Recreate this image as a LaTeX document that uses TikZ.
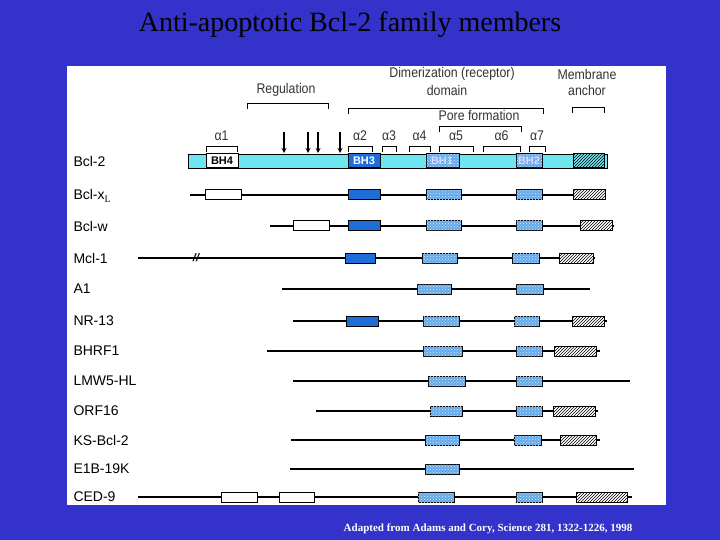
\documentclass[tikz,border=0pt]{standalone}
\usepackage{fontspec}
\setmainfont{Liberation Serif}
\newfontfamily\lab{Liberation Sans}
\usetikzlibrary{patterns}
\definecolor{bg}{RGB}{51,51,204}
\definecolor{cyanbar}{RGB}{110,230,240}
\definecolor{bhthree}{RGB}{30,110,215}
\definecolor{bhlight}{RGB}{100,170,235}
\tikzset{
 wbox/.style={draw=black,fill=white,line width=1pt},
 bthree/.style={draw=black,fill=bhthree,line width=1pt},
 bone/.style={draw=black,fill=bhlight,postaction={pattern=crosshatch dots,pattern color=white!70!bhlight},line width=1pt},
 hatch/.style={draw=black,fill=white,postaction={pattern=north east lines},line width=1pt},
 chain/.style={line width=1.8pt},
 rowlabel/.style={anchor=west,font=\lab\fontsize{14}{14}\selectfont},
 hdr/.style={font=\lab\fontsize{14}{15}\selectfont,text=black!80,xscale=0.88,transform shape},
 brk/.style={line width=1pt},
}
\newcommand\dom[4]{\draw[#4] (#1,#3-5) rectangle (#2,#3+5);}
\newcommand\br[3]{\draw[brk] (#1,#3+5) -- (#1,#3) -- (#2,#3) -- (#2,#3+5);}
\begin{document}
\begin{tikzpicture}[x=1pt,y=-1pt]
\fill[bg] (0,0) rectangle (720,540);
\useasboundingbox (0,0) rectangle (720,540);
\fill[white] (67,66) rectangle (666,505);
\node (title) at (350,25) {\fontsize{28}{28}\selectfont Anti-apoptotic Bcl-2 family members};
\node[text=white] (src) at (488,529) {\fontsize{11}{11}\selectfont\bfseries Adapted from Adams and Cory, Science 281, 1322-1226, 1998};
% header
\node[hdr] (dim) at (452,74) {Dimerization (receptor)};
\node[hdr] (dom) at (447,90) {domain};
\node[hdr] (mem) at (587,74) {Membrane};
\node[hdr] (anc) at (587,90) {anchor};
\node[hdr] (reg) at (286,90) {Regulation};
\node[hdr] (pore) at (479,115) {Pore formation};
\br{247}{328}{104}
\br{348}{543}{109}
\br{572}{604}{108}
\br{439}{521}{127}
\foreach \a/\b/\t in {206/237/1,348/372/2,382/396/3,409/430/4,439/473/5,483/520/6,529/545/7}{
 \br{\a}{\b}{147}
 \node[hdr] (al\t) at ({(\a+\b)/2},136) {α\t};
}
\foreach \x in {284,308,318,340}{\draw[-stealth,line width=1.2pt] (\x,132) -- (\x,153);}
% Bcl-2
\node[rowlabel] (r1) at (70,161) {Bcl-2};
\draw[fill=cyanbar,line width=0.6pt] (188,154) rectangle (607,168);
\draw[wbox] (206,154) rectangle (238,168);
\node[font=\lab\bfseries\fontsize{11}{11}\selectfont] (bh4) at (222,161) {BH4};
\draw[bthree] (348,154) rectangle (380,168);
\node[font=\lab\bfseries\fontsize{11}{11}\selectfont,text=white] (bh3) at (364,161) {BH3};
\draw[bone] (426,154) rectangle (459,168);
\node[font=\lab\bfseries\fontsize{11}{11}\selectfont,text=white!85!blue] (bh1) at (442,161) {BH1};
\draw[bone] (516,154) rectangle (542,168);
\node[font=\lab\bfseries\fontsize{11}{11}\selectfont,text=white!85!blue] (bh2) at (529,161) {BH2};
\draw[hatch,fill=cyanbar] (573,154) rectangle (604,168);
% Bcl-xL
\node[rowlabel] (r2) at (70,196) {Bcl-x$_{\mathrm L}$};
\draw[chain,line width=1.2pt] (190,195) -- (606,195);
\dom{205}{241}{195}{wbox}\dom{348}{380}{195}{bthree}\dom{426}{461}{195}{bone}\dom{516}{542}{195}{bone}\dom{573}{605}{195}{hatch}
% Bcl-w
\node[rowlabel] (r3) at (70,226) {Bcl-w};
\draw[chain] (270,226) -- (614,226);
\dom{293}{329}{226}{wbox}\dom{348}{380}{226}{bthree}\dom{426}{461}{226}{bone}\dom{516}{542}{226}{bone}\dom{580}{612}{226}{hatch}
% Mcl-1
\node[rowlabel] (r4) at (70,258) {Mcl-1};
\draw[chain] (138,258) -- (595,258);
\node[font=\lab\bfseries\itshape\fontsize{11}{11}\selectfont] (brk) at (196,258) {//};
\dom{345}{375}{258}{bthree}\dom{422}{457}{258}{bone}\dom{512}{539}{258}{bone}\dom{559}{593}{258}{hatch}
% A1
\node[rowlabel] (r5) at (70,289) {A1};
\draw[chain] (282,289) -- (590,289);
\dom{417}{451}{289}{bone}\dom{516}{543}{289}{bone}
% NR-13
\node[rowlabel] (r6) at (70,321) {NR-13};
\draw[chain,line width=1.2pt] (293,321) -- (607,321);
\dom{346}{378}{321}{bthree}\dom{423}{459}{321}{bone}\dom{514}{539}{321}{bone}\dom{572}{604}{321}{hatch}
% BHRF1
\node[rowlabel] (r7) at (70,351) {BHRF1};
\draw[chain] (267,351) -- (600,351);
\dom{423}{462}{351}{bone}\dom{516}{542}{351}{bone}\dom{554}{596}{351}{hatch}
% LMW5-HL
\node[rowlabel] (r8) at (70,381) {LMW5-HL};
\draw[chain] (293,381) -- (630,381);
\dom{428}{465}{381}{bone}\dom{516}{542}{381}{bone}
% ORF16
\node[rowlabel] (r9) at (70,411) {ORF16};
\draw[chain] (316,411) -- (598,411);
\dom{430}{462}{411}{bone}\dom{516}{542}{411}{bone}\dom{553}{595}{411}{hatch}
% KS-Bcl-2
\node[rowlabel] (r10) at (70,440) {KS-Bcl-2};
\draw[chain] (291,440) -- (600,440);
\dom{425}{459}{440}{bone}\dom{514}{541}{440}{bone}\dom{560}{596}{440}{hatch}
% E1B-19K
\node[rowlabel] (r11) at (70,469) {E1B-19K};
\draw[chain] (290,469) -- (634,469);
\dom{425}{459}{469}{bone}
% CED-9
\node[rowlabel] (r12) at (70,497) {CED-9};
\draw[chain] (138,497) -- (632,497);
\dom{221}{257}{497}{wbox}\dom{279}{314}{497}{wbox}\dom{418}{454}{497}{bone}\dom{516}{542}{497}{bone}\dom{576}{627}{497}{hatch}
\end{tikzpicture}
\end{document}
